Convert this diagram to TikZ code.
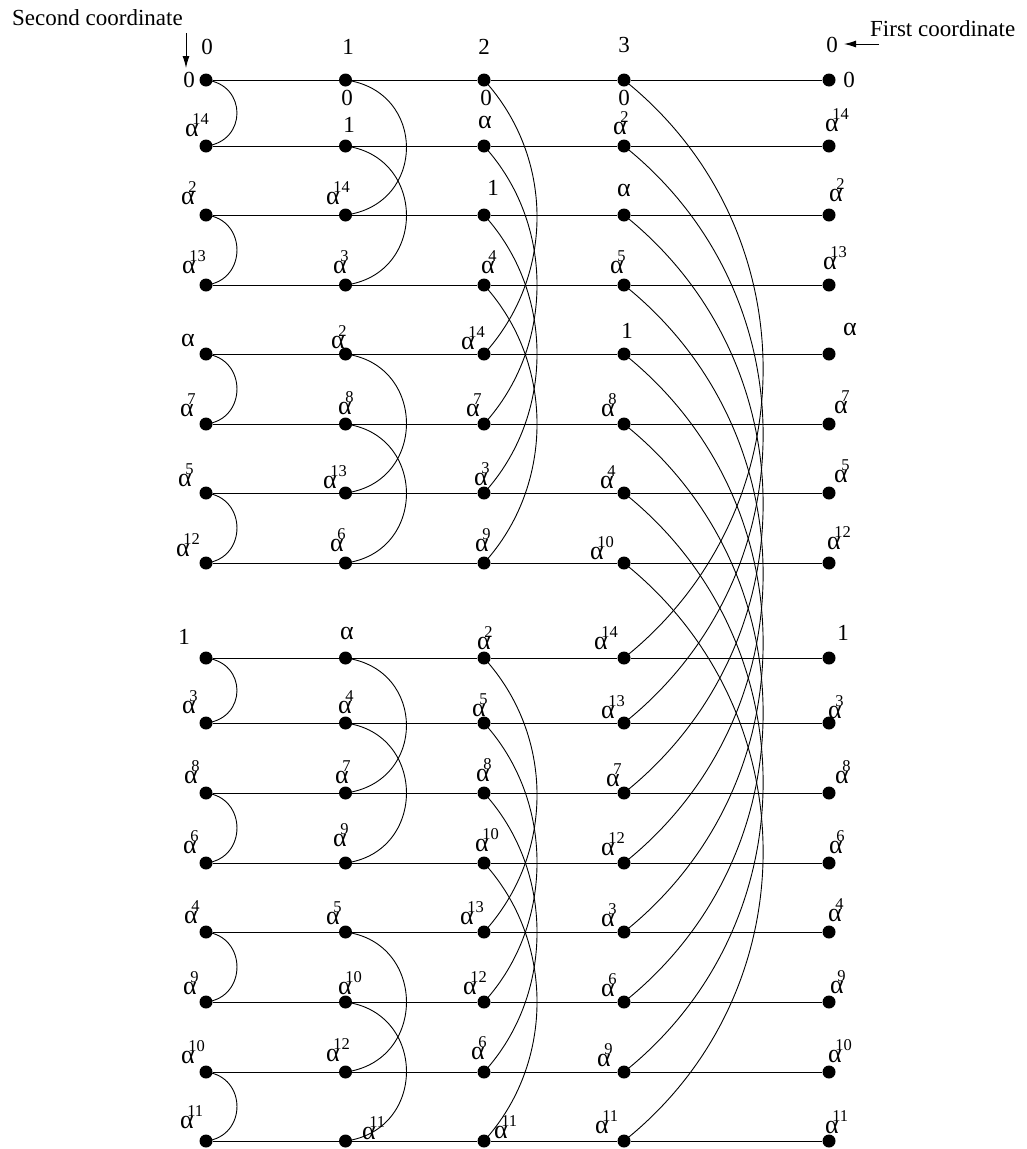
\documentclass[tikz,border=0pt]{standalone}
\usepackage{fontspec}
\setmainfont{Liberation Serif}
\usetikzlibrary{arrows.meta}
\newcommand\alf{{\fontsize{26}{26}\selectfont α}}
\newcommand\apow[1]{\alf\smash{\rlap{\kern-6.5pt\raisebox{12pt}{\fontsize{16.5}{16.5}\selectfont #1}}}}
\begin{document}
\begin{tikzpicture}[x=1pt,y=-1pt,
  dot/.style={circle,fill=black,inner sep=0pt,minimum size=13pt},
  lab/.style={inner sep=0pt,font=\fontsize{23}{25}\selectfont},
  ttl/.style={inner sep=0pt,font=\fontsize{23}{25}\selectfont,anchor=base west},
  hline/.style={line width=1pt},
  curve/.style={line width=0.9pt},
  arr/.style={line width=1pt,-{Latex[length=12pt,width=7pt]}}]
\useasboundingbox (0,0) rectangle (1026,1149);
% dots
\foreach \yy [count=\r from 0] in {80,146,215,285,354,424,493,563,658,723,793,863,932,1002,1072,1141}{
  \foreach \xx [count=\c from 0] in {206,345.5,484,624,829}{
    \node[dot] (d\r-\c) at (\xx,\yy) {};
  }
}
% horizontal lines
\foreach \r in {0,...,15}{
  \draw[hline] (d\r-0) -- (d\r-1) -- (d\r-2) -- (d\r-3) -- (d\r-4);
}
% column 0 arcs
\foreach \a/\b in {0/1,2/3,4/5,6/7,8/9,10/11,12/13,14/15}{
  \draw[curve] (d\a-0.center) .. controls +(41.3,4.5) and +(41.3,-4.5) .. (d\b-0.center);
}
% column 1 arcs
\foreach \a/\b in {0/2,1/3,4/6,5/7,8/10,9/11,12/14,13/15}{
  \draw[curve] (d\a-1.center) .. controls +(81.3,10.7) and +(81.3,-10.7) .. (d\b-1.center);
}
% column 2 arcs
\foreach \a/\b in {0/4,1/5,2/6,3/7,8/12,9/13,10/14,11/15}{
  \draw[curve] (d\a-2.center) .. controls +(70.7,77.7) and +(70.7,-77.7) .. (d\b-2.center);
}
% column 3 arcs
\foreach \a/\b in {0/8,1/9,2/10,3/11,4/12,5/13,6/14,7/15}{
  \draw[curve] (d\a-3.center) .. controls +(185.5,148.2) and +(185.5,-148.2) .. (d\b-3.center);
}
% titles and arrows
\node[ttl] (t2) at (12,25.7) {Second coordinate};
\node[ttl] (t1) at (870,36) {First coordinate};
\coordinate (sa) at (186,33);
\coordinate (sb) at (186,68);
\coordinate (fa) at (879,44);
\coordinate (fb) at (844,44);
\draw[arr] (sa) -- (sb);
\draw[arr] (fa) -- (fb);
% column headers
\node[lab] (h0) at (207,47) {0};
\node[lab] (h1) at (348,47) {1};
\node[lab] (h2) at (484,47) {2};
\node[lab] (h3) at (624,45) {3};
\node[lab] (h4) at (832,45) {0};
% row 0
\node[lab] (l0-0) at (189,80) {0};
\node[lab] (l0-1) at (347,98) {0};
\node[lab] (l0-2) at (486,98) {0};
\node[lab] (l0-3) at (624,98) {0};
\node[lab] (l0-4) at (849,80) {0};
% row 1
\node[lab] (l1-0) at (192,130) {\apow{14}};
\node[lab] (l1-1) at (349,125) {1};
\node[lab] (l1-2) at (485,122) {\alf};
\node[lab] (l1-3) at (620,128) {\apow{2}};
\node[lab] (l1-4) at (832,125) {\apow{14}};
% row 2
\node[lab] (l2-0) at (188,198) {\apow{2}};
\node[lab] (l2-1) at (333,198) {\apow{14}};
\node[lab] (l2-2) at (493,188) {1};
\node[lab] (l2-3) at (624,190) {\alf};
\node[lab] (l2-4) at (836,195) {\apow{2}};
% row 3
\node[lab] (l3-0) at (189,267) {\apow{13}};
\node[lab] (l3-1) at (340,267) {\apow{3}};
\node[lab] (l3-2) at (488,267) {\apow{4}};
\node[lab] (l3-3) at (617,267) {\apow{5}};
\node[lab] (l3-4) at (830,263) {\apow{13}};
% row 4
\node[lab] (l4-0) at (188,340) {\alf};
\node[lab] (l4-1) at (338,342) {\apow{2}};
\node[lab] (l4-2) at (468,343) {\apow{14}};
\node[lab] (l4-3) at (627,331) {1};
\node[lab] (l4-4) at (850,329) {\alf};
% row 5
\node[lab] (l5-0) at (187,410) {\apow{7}};
\node[lab] (l5-1) at (345,408) {\apow{8}};
\node[lab] (l5-2) at (473,410) {\apow{7}};
\node[lab] (l5-3) at (608,410) {\apow{8}};
\node[lab] (l5-4) at (841,407) {\apow{7}};
% row 6
\node[lab] (l6-0) at (185,480) {\apow{5}};
\node[lab] (l6-1) at (330,482) {\apow{13}};
\node[lab] (l6-2) at (481,479) {\apow{3}};
\node[lab] (l6-3) at (607,482) {\apow{4}};
\node[lab] (l6-4) at (841,476) {\apow{5}};
% row 7
\node[lab] (l7-0) at (183,550) {\apow{12}};
\node[lab] (l7-1) at (337,545) {\apow{6}};
\node[lab] (l7-2) at (482,545) {\apow{9}};
\node[lab] (l7-3) at (597,553) {\apow{10}};
\node[lab] (l7-4) at (834,543) {\apow{12}};
% row 8
\node[lab] (l8-0) at (184,637) {1};
\node[lab] (l8-1) at (347,633) {\alf};
\node[lab] (l8-2) at (484,643) {\apow{2}};
\node[lab] (l8-3) at (601,643) {\apow{14}};
\node[lab] (l8-4) at (843,633) {1};
% row 9
\node[lab] (l9-0) at (189,707) {\apow{3}};
\node[lab] (l9-1) at (345,707) {\apow{4}};
\node[lab] (l9-2) at (479,710) {\apow{5}};
\node[lab] (l9-3) at (608,712) {\apow{13}};
\node[lab] (l9-4) at (835,712) {\apow{3}};
% row 10
\node[lab] (l10-0) at (191,777) {\apow{8}};
\node[lab] (l10-1) at (342,777) {\apow{7}};
\node[lab] (l10-2) at (483,775) {\apow{8}};
\node[lab] (l10-3) at (613,780) {\apow{7}};
\node[lab] (l10-4) at (842,777) {\apow{8}};
% row 11
\node[lab] (l11-0) at (190,847) {\apow{6}};
\node[lab] (l11-1) at (340,840) {\apow{9}};
\node[lab] (l11-2) at (482,845) {\apow{10}};
\node[lab] (l11-3) at (608,849) {\apow{12}};
\node[lab] (l11-4) at (836,847) {\apow{6}};
% row 12
\node[lab] (l12-0) at (191,917) {\apow{4}};
\node[lab] (l12-1) at (333,918) {\apow{5}};
\node[lab] (l12-2) at (467,918) {\apow{13}};
\node[lab] (l12-3) at (608,920) {\apow{3}};
\node[lab] (l12-4) at (835,915) {\apow{4}};
% row 13
\node[lab] (l13-0) at (190,988) {\apow{9}};
\node[lab] (l13-1) at (345,988) {\apow{10}};
\node[lab] (l13-2) at (470,988) {\apow{12}};
\node[lab] (l13-3) at (608,990) {\apow{6}};
\node[lab] (l13-4) at (837,987) {\apow{9}};
% row 14
\node[lab] (l14-0) at (188,1057) {\apow{10}};
\node[lab] (l14-1) at (333,1055) {\apow{12}};
\node[lab] (l14-2) at (478,1053) {\apow{6}};
\node[lab] (l14-3) at (604,1060) {\apow{9}};
\node[lab] (l14-4) at (835,1056) {\apow{10}};
% row 15
\node[lab] (l15-0) at (187,1122) {\apow{11}};
\node[lab] (l15-1) at (369,1133) {\apow{11}};
\node[lab] (l15-2) at (501,1132) {\apow{11}};
\node[lab] (l15-3) at (602,1127) {\apow{11}};
\node[lab] (l15-4) at (832,1127) {\apow{11}};
\end{tikzpicture}
\end{document}
